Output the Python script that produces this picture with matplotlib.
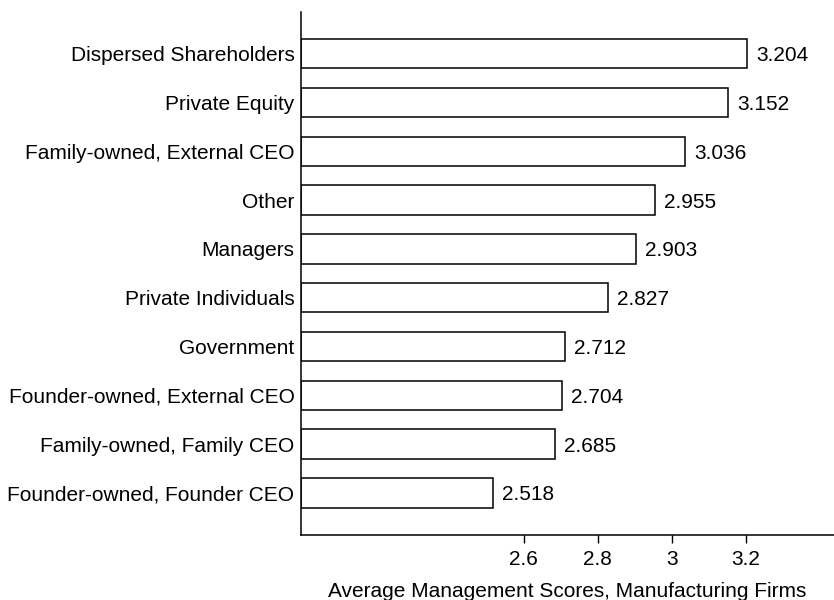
import matplotlib.pyplot as plt

plt.rcParams['font.family'] = ['Liberation Sans', 'DejaVu Sans']

owners = ["Dispersed Shareholders", "Private Equity", "Family-owned, External CEO",
          "Other", "Managers", "Private Individuals", "Government",
          "Founder-owned, External CEO", "Family-owned, Family CEO",
          "Founder-owned, Founder CEO"]
scores = [3.204, 3.152, 3.036, 2.955, 2.903, 2.827, 2.712, 2.704, 2.685, 2.518]
xticks = [2.6, 2.8, 3.0, 3.2]
xticklabels = ["2.6", "2.8", "3", "3.2"]
base = 2.0

fig = plt.figure(figsize=(8.34, 6), dpi=100)
ax = fig.add_axes([0.3613, 0.1078, 0.6387, 0.8727])

pos = list(range(len(owners)))
ax.barh(pos, [s - base for s in scores], left=base, height=0.6,
        color='white', edgecolor='black', linewidth=1.1)
for p, s in zip(pos, scores):
    ax.annotate("%.3f" % s, xy=(s, p), xytext=(6.5, -1.5), textcoords='offset points',
                va='center', ha='left', fontsize=15)

ax.set_xlim(base, 3.438)
ax.set_ylim(9.87, -0.86)
ax.set_yticks(pos)
ax.set_yticklabels(owners, fontsize=15)
ax.tick_params(axis='y', length=0, pad=5)
ax.set_xticks(xticks)
ax.set_xticklabels(xticklabels, fontsize=15)
ax.tick_params(axis='x', length=5.5, width=1, pad=5)
ax.set_xlabel("Average Management Scores, Manufacturing Firms", fontsize=15, labelpad=9.5)
ax.spines['top'].set_visible(False)
ax.spines['right'].set_visible(False)
ax.spines['left'].set_linewidth(1.1)
ax.spines['bottom'].set_linewidth(1.1)

plt.savefig("out.png")
